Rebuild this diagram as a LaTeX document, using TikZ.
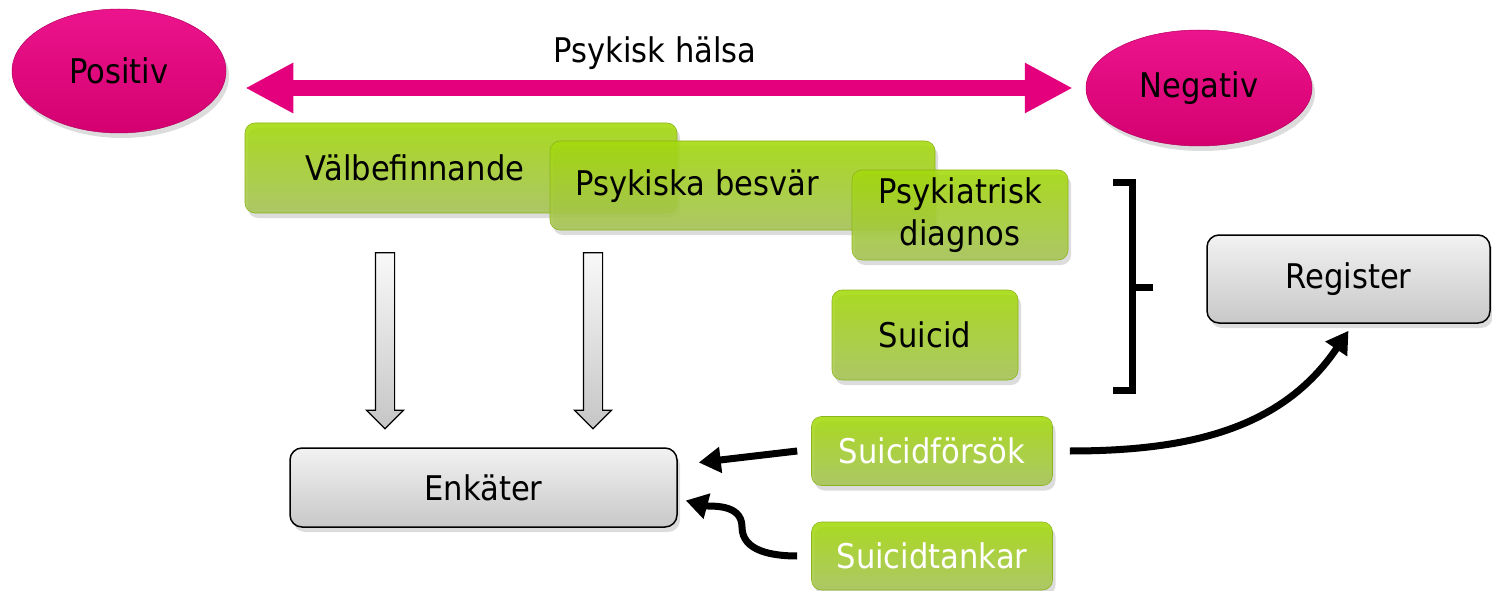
\documentclass[tikz,border=0pt]{standalone}
\usepackage{fontspec}
\setmainfont{DejaVu Sans}[FakeStretch=0.9]
\usetikzlibrary{shapes.geometric,shapes.arrows,shadows,arrows.meta}
\definecolor{pinkT}{RGB}{236,20,140}
\definecolor{pinkB}{RGB}{212,0,112}
\definecolor{pinkM}{RGB}{228,0,125}
\definecolor{greenT}{RGB}{164,218,8}
\definecolor{greenB}{RGB}{166,196,86}
\definecolor{greenE}{RGB}{140,180,30}
\definecolor{grayT}{RGB}{242,242,242}
\definecolor{grayB}{RGB}{200,200,200}
\tikzset{
  shad/.style={drop shadow={opacity=0.28,shadow xshift=3pt,shadow yshift=-5pt}},
  greenbox/.style={rectangle, rounded corners=10pt, top color=greenT, bottom color=greenB,
    draw=greenE, line width=0.6pt, inner sep=0pt, align=center, shad,
    fill opacity=0.88, text opacity=1},
  graybox/.style={rectangle, rounded corners=12pt, top color=grayT, bottom color=grayB,
    draw=black, line width=1.5pt, inner sep=0pt, shad},
  pinkell/.style={ellipse, top color=pinkT, bottom color=pinkB, draw=pinkB!85!black,
    line width=0.5pt, inner sep=0pt, shad},
  hollow/.style={single arrow, shape border rotate=270, draw=black, line width=1.2pt,
    top color=gray!5, bottom color=gray!45, minimum height=176pt,
    single arrow head extend=9pt, inner xsep=9pt, inner ysep=0pt},
  blk/.style={line width=7pt, -{Triangle[length=22pt,width=25pt]}},
  pinkarrow/.style={line width=16pt, draw=pinkM,
    {Triangle[length=48pt,width=47pt]}-{Triangle[length=48pt,width=47pt]}},
}
\begin{document}
\begin{tikzpicture}[x=1pt,y=1pt,font=\fontsize{34}{42}\selectfont]
\useasboundingbox (0,0) rectangle (1492,-591);
% ellipses
\node[pinkell, minimum width=214pt, minimum height=124pt] (Pos) at (119,-71) {Positiv};
\node[pinkell, minimum width=226pt, minimum height=116pt] (Neg) at (1199,-88) {Negativ};
\draw[pinkarrow, shorten <=19pt, shorten >=13pt] (Pos.east |- Neg.west) -- (Neg.west);
\node (title) at (655,-53) {Psykisk hälsa};
% green boxes
\node[greenbox, minimum width=432pt, minimum height=90pt] (V) at (461,-168) {};
\node at (415,-168) {Välbefinnande};
\node[greenbox, minimum width=385pt, minimum height=89pt] (P) at (742.5,-185.5) {};
\node at (697,-186) {Psykiska besvär};
\node[greenbox, minimum width=216pt, minimum height=90pt] (PD) at (960,-215) {Psykiatrisk\\[0pt]diagnos};
\node[greenbox, minimum width=186pt, minimum height=90pt] (S) at (925,-335) {Suicid};
\node[greenbox, minimum width=241pt, minimum height=69pt, text=white] (SF) at (932,-451) {Suicidförsök};
\node[greenbox, minimum width=241pt, minimum height=68pt, text=white] (ST) at (932,-556) {Suicidtankar};
% gray boxes
\node[graybox, minimum width=283pt, minimum height=88pt] (Reg) at (1348.5,-279) {Register};
\node[graybox, minimum width=387pt, minimum height=79pt] (Enk) at (483.5,-487.5) {Enkäter};
% hollow arrows
\node[hollow] (h1) at (385,-336) {};
\node[hollow] (h2) at (593,-336) {};
% bracket
\draw[line width=7pt] (1113,-183) -- (1132,-183) -- (1132,-390) -- (1113,-390);
\draw[line width=7pt] (1132,-287) -- (1153,-287);
% black arrows
\draw[blk] ([xshift=-14pt]SF.west) -- ([shift={(21pt,25pt)}]Enk.east);
\coordinate (bend) at (742,-527);
\draw[blk] ([xshift=-14pt]ST.west) to[out=180,in=-90] (bend) to[out=90,in=-15] ([shift={(8pt,-13pt)}]Enk.east);
\draw[blk] ([xshift=17pt]SF.east) to[out=0,in=236] ([yshift=-7pt]Reg.south);
\end{tikzpicture}
\end{document}
